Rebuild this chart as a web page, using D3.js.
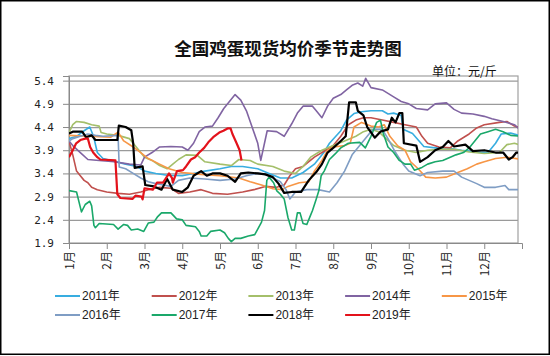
<!DOCTYPE html>
<html><head><meta charset="utf-8">
<script src="https://cdn.jsdelivr.net/npm/d3@7"></script>
<style>body{margin:0;background:#fff}svg{display:block}</style>
</head><body>
<svg id="c" width="550" height="356"></svg>
<script>
// ---- data (month position within year, price 元/斤) ----
const monthLabels = ["1月","2月","3月","4月","5月","6月","7月","8月","9月","10月","11月","12月"];
const yTicks = [1.9, 2.4, 2.9, 3.4, 3.9, 4.4, 4.9, 5.4];
const years = ["2011年","2012年","2013年","2014年","2015年","2016年","2017年","2018年","2019年"];

const s2011 = [[0,4.15],[0.2,4.2],[0.4,4.32],[0.55,4.4],[0.65,4.2],[0.75,3.85],[0.9,3.72],[1.2,3.66],[1.5,3.6],[1.8,3.55],[2.0,3.45],[2.3,3.4],[2.6,3.36],[3.0,3.35],[3.3,3.4],[3.6,3.45],[4.0,3.5],[4.3,3.55],[4.6,3.55],[5.0,3.5],[5.3,3.4],[5.6,3.3],[5.9,3.3],[6.2,3.42],[6.5,3.6],[6.75,3.85],[6.9,4.05],[7.2,4.32],[7.35,4.55],[7.55,4.69],[7.75,4.73],[8.0,4.75],[8.3,4.75],[8.45,4.68],[8.6,4.7],[8.8,4.65],[8.85,4.35],[9.1,4.26],[9.25,4.12],[9.4,3.98],[9.7,3.95],[10.0,3.95],[10.4,3.9],[10.8,3.86],[11.1,3.85],[11.3,4.05],[11.45,4.25],[11.7,4.27],[12,4.2]];
const s2012 = [[0,4.1],[0.1,3.8],[0.2,3.45],[0.3,3.35],[0.4,3.25],[0.5,3.2],[0.6,3.1],[0.75,3.05],[1.0,3.0],[1.3,2.97],[1.6,2.95],[1.9,3.0],[2.1,3.05],[2.4,3.1],[2.7,3.08],[2.9,2.97],[3.2,3.0],[3.5,3.05],[3.8,2.97],[4.2,2.95],[4.6,3.0],[4.9,3.05],[5.2,3.12],[5.5,3.1],[5.7,3.15],[5.85,3.35],[6.0,3.5],[6.2,3.55],[6.5,3.75],[6.8,3.9],[7.0,4.0],[7.2,4.2],[7.4,4.45],[7.6,4.55],[7.8,4.6],[8.0,4.6],[8.3,4.55],[8.6,4.5],[8.9,4.45],[9.2,4.4],[9.35,4.2],[9.5,4.05],[9.8,3.97],[10.1,3.95],[10.3,4.1],[10.6,4.25],[10.8,4.38],[11.0,4.45],[11.4,4.5],[11.6,4.52],[11.8,4.42],[12,4.37]];
const s2013 = [[0,4.28],[0.1,4.45],[0.2,4.52],[0.4,4.5],[0.6,4.45],[0.8,4.42],[0.85,4.28],[1.0,4.25],[1.3,4.22],[1.6,4.15],[1.75,4.0],[1.9,3.85],[2.0,3.75],[2.2,3.68],[2.4,3.57],[2.6,3.5],[2.75,3.6],[2.9,3.7],[3.1,3.8],[3.4,3.79],[3.6,3.65],[4.0,3.6],[4.3,3.57],[4.5,3.7],[4.8,3.68],[5.0,3.6],[5.4,3.55],[5.7,3.45],[6.0,3.4],[6.2,3.55],[6.4,3.75],[6.7,3.9],[7.0,4.0],[7.3,4.1],[7.6,4.2],[7.8,4.3],[8.0,4.35],[8.2,4.3],[8.4,4.15],[8.6,4.0],[8.9,3.9],[9.2,3.85],[9.5,3.9],[9.8,3.92],[10.2,3.92],[10.6,3.86],[11.0,3.83],[11.4,3.85],[11.6,4.02],[11.8,4.05],[12,4.0]];
const s2014 = [[0,4.1],[0.1,4.0],[0.3,3.85],[0.5,3.7],[0.8,3.68],[1.2,3.65],[1.6,3.6],[1.9,3.58],[2.0,3.75],[2.2,3.85],[2.4,3.97],[2.7,3.98],[3.0,3.97],[3.15,3.9],[3.3,4.05],[3.45,4.3],[3.6,4.4],[3.8,4.42],[3.95,4.6],[4.1,4.8],[4.25,4.95],[4.4,5.1],[4.55,4.98],[4.7,4.75],[4.85,4.4],[5.0,4.05],[5.08,3.68],[5.25,4.32],[5.5,4.3],[5.7,4.2],[5.9,4.47],[6.05,4.7],[6.2,4.85],[6.45,4.85],[6.55,4.75],[6.7,4.6],[6.85,4.85],[7.0,5.02],[7.2,5.1],[7.35,5.2],[7.5,5.3],[7.65,5.35],[7.78,5.28],[7.86,5.45],[8.0,5.25],[8.3,5.2],[8.6,5.05],[8.8,4.95],[9.0,4.9],[9.2,4.8],[9.5,4.77],[9.7,4.9],[10.0,4.92],[10.2,4.78],[10.4,4.7],[10.7,4.68],[11.0,4.63],[11.2,4.58],[11.5,4.52],[11.8,4.45],[12,4.3]];
const s2015 = [[0,4.22],[0.5,4.2],[1.1,4.18],[1.3,4.29],[1.45,4.1],[1.7,3.97],[1.9,3.85],[2.1,3.72],[2.4,3.6],[2.65,3.5],[3.0,3.42],[3.5,3.38],[4.0,3.35],[4.5,3.3],[4.8,3.22],[5.1,3.15],[5.4,3.07],[5.65,3.05],[5.8,3.12],[6.1,3.2],[6.35,3.22],[6.5,3.45],[6.7,3.68],[6.85,3.9],[7.0,3.97],[7.3,4.0],[7.45,4.05],[7.55,4.4],[7.75,4.5],[8.0,4.42],[8.2,4.4],[8.35,4.45],[8.5,4.2],[8.7,4.0],[8.9,3.9],[9.05,3.65],[9.25,3.5],[9.45,3.32],[9.7,3.3],[10.0,3.32],[10.3,3.42],[10.55,3.5],[10.8,3.6],[11.0,3.65],[11.3,3.72],[11.6,3.75],[12,3.7]];
const s2016 = [[0,4.1],[0.1,4.15],[0.3,4.2],[0.5,4.25],[0.7,4.22],[0.9,4.2],[1.3,4.22],[1.33,3.54],[1.5,3.5],[1.7,3.4],[1.9,3.3],[2.1,3.22],[2.3,3.18],[2.5,3.15],[2.7,3.12],[2.9,3.25],[3.2,3.3],[3.6,3.28],[4.0,3.25],[4.4,3.28],[4.7,3.35],[5.0,3.4],[5.2,3.38],[5.4,3.3],[5.6,3.22],[5.75,3.05],[5.85,2.85],[6.0,3.0],[6.3,3.05],[6.6,3.05],[6.9,3.0],[7.1,3.2],[7.3,3.45],[7.5,3.8],[7.7,4.0],[7.9,4.2],[8.05,4.35],[8.3,4.35],[8.45,4.15],[8.65,3.85],[8.85,3.6],[9.0,3.45],[9.3,3.35],[9.5,3.42],[9.9,3.45],[10.2,3.45],[10.4,3.32],[10.6,3.25],[10.8,3.18],[11.0,3.1],[11.3,3.1],[11.55,3.14],[11.65,3.05],[11.9,3.05]];
const s2017 = [[0,3.03],[0.2,3.0],[0.33,2.57],[0.43,2.73],[0.55,2.8],[0.6,2.7],[0.66,2.28],[0.7,2.23],[0.8,2.32],[1.18,2.3],[1.3,2.2],[1.45,2.3],[1.55,2.28],[1.65,2.18],[1.82,2.2],[1.98,2.15],[2.1,2.33],[2.25,2.35],[2.35,2.47],[2.45,2.55],[2.7,2.55],[2.85,2.42],[3.0,2.4],[3.1,2.28],[3.35,2.25],[3.45,2.15],[3.5,2.05],[3.65,2.05],[3.75,2.15],[4.0,2.18],[4.12,2.12],[4.22,2.0],[4.3,1.93],[4.4,2.0],[4.55,2.0],[4.75,2.05],[4.92,2.08],[5.0,2.2],[5.1,2.35],[5.18,2.6],[5.24,3.25],[5.3,3.32],[5.42,3.2],[5.5,3.03],[5.6,2.95],[5.7,2.85],[5.8,2.45],[5.9,2.18],[5.97,2.18],[6.05,2.55],[6.12,2.55],[6.2,2.32],[6.3,2.3],[6.4,2.5],[6.45,2.6],[6.55,2.85],[6.62,3.03],[6.68,3.35],[6.76,3.45],[6.9,3.7],[7.05,3.82],[7.2,3.95],[7.4,4.05],[7.7,4.07],[7.85,3.95],[8.0,4.2],[8.15,4.5],[8.25,4.55],[8.33,4.25],[8.45,3.97],[8.6,3.85],[8.75,3.68],[8.9,3.6],[9.05,3.6],[9.15,3.47],[9.35,3.53],[9.5,3.6],[9.7,3.65],[9.9,3.68],[10.1,3.75],[10.25,3.8],[10.45,3.85],[10.6,3.95],[10.75,4.1],[10.9,4.25],[11.1,4.3],[11.3,4.35],[11.5,4.3],[11.7,4.22],[12,4.2]];
const s2018 = [[0,4.26],[0.1,4.3],[0.35,4.3],[0.45,4.18],[0.6,4.22],[0.7,4.12],[1.0,4.12],[1.28,4.12],[1.32,4.43],[1.5,4.4],[1.65,4.33],[1.7,4.05],[1.74,3.52],[1.95,3.55],[2.02,3.15],[2.25,3.12],[2.45,3.05],[2.6,3.28],[2.75,3.05],[3.0,3.0],[3.15,3.1],[3.3,3.35],[3.5,3.45],[3.65,3.35],[3.8,3.4],[4.0,3.4],[4.2,3.35],[4.4,3.22],[4.55,3.4],[4.75,3.42],[5.0,3.4],[5.2,3.38],[5.4,3.32],[5.55,3.18],[5.7,2.98],[5.9,3.0],[6.15,3.0],[6.35,3.25],[6.55,3.43],[6.7,3.6],[6.85,3.85],[7.0,3.95],[7.2,4.1],[7.33,4.2],[7.42,4.93],[7.6,4.93],[7.65,4.75],[7.8,4.65],[7.9,4.4],[8.1,4.17],[8.25,4.3],[8.45,4.35],[8.55,4.6],[8.65,4.5],[8.75,4.7],[8.83,4.7],[8.87,4.05],[9.2,4.0],[9.3,3.65],[9.5,3.75],[9.7,3.9],[9.9,3.97],[10.05,4.1],[10.2,3.98],[10.5,4.02],[10.7,3.88],[11.0,3.9],[11.3,3.85],[11.5,3.85],[11.65,3.7],[11.75,3.75],[11.85,3.85],[12,3.85]];
const s2019 = [[0,3.75],[0.1,3.9],[0.19,4.05],[0.3,4.12],[0.43,4.15],[0.5,4.15],[0.56,3.97],[0.64,3.85],[0.75,3.75],[0.83,3.7],[1.23,3.68],[1.28,2.95],[1.36,2.87],[1.68,2.85],[1.76,2.92],[1.92,2.9],[1.95,2.84],[2.0,3.08],[2.22,3.05],[2.33,3.2],[2.49,3.2],[2.57,3.3],[2.65,3.4],[2.73,3.3],[2.75,3.2],[2.86,3.45],[3.02,3.47],[3.1,3.55],[3.23,3.7],[3.34,3.75],[3.45,3.85],[3.58,3.95],[3.69,4.07],[3.82,4.18],[3.98,4.28],[4.09,4.32],[4.2,4.37],[4.28,4.37],[4.33,4.25],[4.44,4.05],[4.52,3.9],[4.57,3.68]];

const seriesData = [s2011, s2012, s2013, s2014, s2015, s2016, s2017, s2018, s2019];
const colors = ["#38ade0","#c0504d","#a4bf6a","#8064a2","#f79646","#7f9dc4","#1aa86a","#000000","#e3121b"];
const widths = [1.6,1.6,1.6,1.6,1.6,1.6,1.6,2.2,2.2];

// ---- chart ----
const svg = d3.select("#c");
svg.append("rect").attr("x",0.75).attr("y",0.75).attr("width",548.5).attr("height",353.5)
  .attr("fill","#fff").attr("stroke","#000").attr("stroke-width",1.5);

const L = 69, R = 518, T = 76, B = 243;
const x = d3.scaleLinear().domain([0, 12]).range([L, 522]);
const y = d3.scaleLinear().domain([1.9, 5.5]).range([B, T]);

// gridlines
svg.append("g").attr("transform",`translate(${L},0)`)
  .call(d3.axisLeft(y).tickValues(yTicks).tickSize(-(R-L)).tickFormat(""))
  .call(g => g.select(".domain").remove())
  .selectAll("line").attr("stroke","#9a9a9a").attr("stroke-width",1.2);

// plot frame
svg.append("rect").attr("x",L).attr("y",T).attr("width",R-L).attr("height",B-T)
  .attr("fill","none").attr("stroke","#a0a0a0").attr("stroke-width",1.2);

// y axis
const ya = svg.append("g").attr("transform",`translate(${L},0)`)
  .call(d3.axisLeft(y).tickValues(yTicks).tickSize(6).tickPadding(9).tickFormat(d3.format(".1f")));
ya.select(".domain").attr("stroke","#8a8a8a");
ya.selectAll("line").attr("stroke","#8a8a8a");
ya.selectAll("text").attr("font-family","'DejaVu Sans Mono','Liberation Mono',monospace")
  .attr("font-size",11).attr("fill","#222");

// x axis
const xa = svg.append("g").attr("transform",`translate(0,${B})`)
  .call(d3.axisBottom(x).tickValues(d3.range(0,12)).tickSize(6).tickFormat(i => monthLabels[i]));
xa.select(".domain").attr("stroke","#8a8a8a");
xa.selectAll("line").attr("stroke","#8a8a8a");
xa.selectAll("text")
  .attr("font-family","'Noto Sans CJK SC',sans-serif").attr("font-size",12).attr("fill","#222")
  .attr("transform","rotate(-90)").attr("x",-8).attr("y",0).attr("dy","0.35em")
  .style("text-anchor","end");

// clip
svg.append("clipPath").attr("id","pc").append("rect")
  .attr("x",L).attr("y",T).attr("width",R-L).attr("height",B-T);

const line = d3.line().x(d => x(d[0])).y(d => y(d[1]));
svg.append("g").attr("clip-path","url(#pc)")
  .selectAll("path").data(seriesData).join("path")
  .attr("d", line).attr("fill","none")
  .attr("stroke",(d,i)=>colors[i]).attr("stroke-width",(d,i)=>widths[i])
  .attr("stroke-linejoin","round");

// title & unit
svg.append("text").attr("x",288).attr("y",55).attr("text-anchor","middle")
  .attr("font-family","'Noto Sans CJK SC',sans-serif").attr("font-weight","bold")
  .attr("font-size",17.5).attr("fill","#111").text("全国鸡蛋现货均价季节走势图");
svg.append("text").attr("x",432).attr("y",76).attr("text-anchor","start")
  .attr("font-family","'Noto Sans CJK SC',sans-serif")
  .attr("font-size",12).attr("fill","#111").text("单位：元/斤");

// legend
const lg = svg.append("g").selectAll("g").data(years).join("g")
  .attr("transform",(d,i)=>`translate(${55 + (i%5)*96.7},${296 + Math.floor(i/5)*19})`);
lg.append("line").attr("x1",0).attr("x2",25).attr("y1",0).attr("y2",0)
  .attr("stroke",(d,i)=>colors[i]).attr("stroke-width",2);
lg.append("text").attr("x",27).attr("y",0).attr("dy","0.36em")
  .attr("font-family","'Liberation Sans','Noto Sans CJK SC',sans-serif")
  .attr("font-size",12).attr("fill","#222").text(d=>d);
</script>
</body></html>
